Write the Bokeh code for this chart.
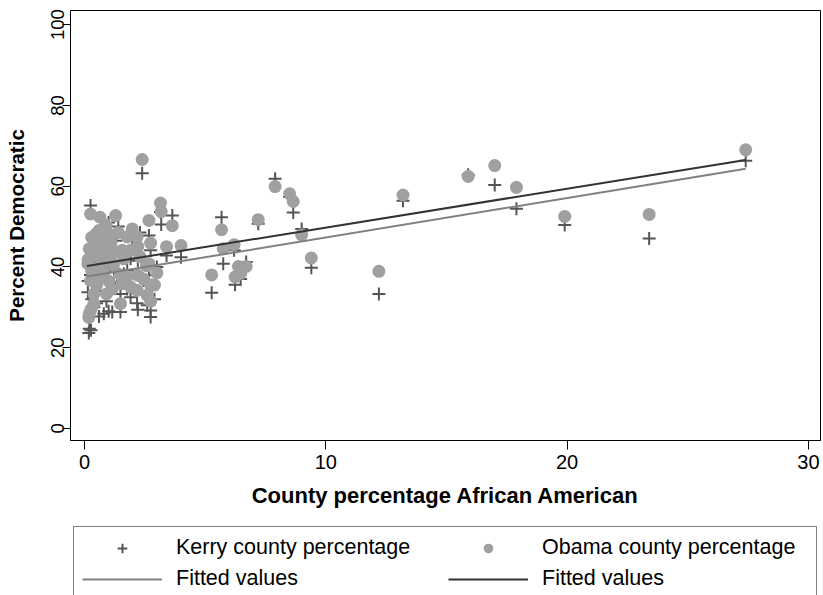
from bokeh.plotting import figure
from bokeh.layouts import column
from bokeh.models import Range1d, Legend, LegendItem, FixedTicker, ColumnDataSource
from bokeh.embed import file_html
from bokeh.resources import INLINE

# ---- data ----
pct_african_american = [
    27.4, 23.4, 19.9, 17.9, 17.0, 15.9, 13.2, 12.2, 9.4, 9.0, 8.65, 8.5, 7.9, 7.2,
    6.7, 6.47, 6.38, 6.24, 6.2, 5.75, 5.68, 5.27,
    4.0, 3.64, 3.4, 3.18, 3.15, 2.74, 2.67, 2.39, 2.74, 2.74, 2.67, 2.57, 2.45, 2.21,
    2.21, 2.18, 2.18, 1.98, 1.91, 1.91, 1.77, 1.77, 1.63, 1.56, 1.56, 1.49, 1.49, 1.4,
    1.29, 1.22, 1.2, 1.15, 1.1, 1.0, 1.0, 0.95, 0.91, 0.9, 0.85, 0.8, 0.75, 0.7,
    0.64, 0.6, 0.6, 0.55, 0.5, 0.5, 0.45, 0.4, 0.39, 0.39, 0.3, 0.3, 0.27, 0.25,
    0.25, 0.2, 0.2, 0.18, 0.15, 0.14, 2.9, 2.3, 3.0, 2.6,
]
obama_pct = [
    69.0, 53.0, 52.5, 59.7, 65.1, 62.4, 57.8, 38.9, 42.2, 47.9, 56.2, 58.1, 59.9, 51.7,
    40.1, 38.4, 40.1, 37.5, 45.5, 44.5, 49.2, 38.0,
    45.3, 50.2, 45.0, 53.7, 55.8, 45.9, 51.5, 66.6, 35.6, 31.5, 40.8, 40.3, 37.0, 37.9,
    45.0, 47.4, 34.2, 49.4, 44.1, 35.0, 47.4, 37.5, 42.0, 44.1, 35.8, 30.9, 38.0, 48.5,
    52.7, 43.5, 40.5, 34.5, 46.0, 36.5, 48.2, 41.5, 33.3, 50.3, 44.0, 38.5, 46.5, 42.5,
    52.3, 49.0, 37.5, 40.0, 43.0, 35.5, 48.0, 45.3, 33.3, 30.9, 47.3, 39.0, 29.5, 53.1,
    36.6, 44.5, 28.4, 27.5, 41.8, 40.8, 35.5, 42.5, 38.5, 33.0,
]
kerry_pct = [
    66.3, 47.0, 50.4, 54.4, 60.3, 62.8, 56.4, 33.3, 39.8, 49.4, 53.5, 57.3, 61.8, 50.7,
    41.2, 37.0, 38.5, 35.6, 44.1, 40.8, 52.3, 33.6,
    42.4, 52.7, 42.8, 50.5, 53.6, 44.1, 47.8, 63.2, 27.6, 29.2, 37.9, 33.7, 36.6, 29.4,
    41.5, 43.5, 31.0, 45.0, 42.0, 32.5, 39.1, 34.5, 38.3, 43.0, 36.5, 28.8, 33.3, 50.0,
    46.5, 39.5, 36.0, 28.8, 47.0, 29.0, 51.0, 41.0, 31.5, 44.0, 39.0, 28.4, 43.0, 37.0,
    49.0, 45.5, 27.7, 34.0, 40.0, 31.0, 46.5, 42.0, 30.0, 35.5, 45.0, 32.0, 24.3, 55.2,
    38.0, 40.0, 24.7, 23.6, 36.5, 33.7, 32.0, 48.5, 40.0, 30.5,
]
# fitted-line end points
fit_x = [0.1, 27.4]
kerry_fit = [37.6, 64.3]
obama_fit = [40.2, 66.5]

x_ticks = [0, 10, 20, 30]
y_ticks = [0, 20, 40, 60, 80, 100]
legend_labels = ["Kerry county percentage", "Obama county percentage",
                 "Fitted values", "Fitted values"]

FONT = "Liberation Sans"
KERRY_MARK = dict(marker="cross", size=13, line_color="#555555", line_width=2)
OBAMA_MARK = dict(marker="circle", size=13, fill_color="#a0a0a0",
                  line_color="#a0a0a0", line_width=0)
KERRY_LINE = dict(line_color="#808080", line_width=2)
OBAMA_LINE = dict(line_color="#333333", line_width=2)

src = ColumnDataSource(dict(x=pct_african_american, obama=obama_pct, kerry=kerry_pct))
fit_src = ColumnDataSource(dict(x=fit_x, kerry=kerry_fit, obama=obama_fit))

# ---------------- main plot ----------------
p = figure(width=823, height=525, output_backend="svg", toolbar_location=None,
           x_range=Range1d(-0.58, 30.5), y_range=Range1d(-3, 103.5),
           min_border_left=70, min_border_top=10, min_border_right=3,
           min_border_bottom=85)
p.grid.visible = False
p.outline_line_color = "black"
p.outline_line_width = 1
p.background_fill_color = "white"
p.border_fill_color = "white"

p.scatter("x", "kerry", source=src, **KERRY_MARK)
p.scatter("x", "obama", source=src, **OBAMA_MARK)
p.line("x", "kerry", source=fit_src, **KERRY_LINE)
p.line("x", "obama", source=fit_src, **OBAMA_LINE)

for ax in (p.xaxis[0], p.yaxis[0]):
    ax.axis_line_color = "black"
    ax.major_tick_line_color = "black"
    ax.major_tick_out = 8
    ax.major_tick_in = 0
    ax.minor_tick_line_color = None
    ax.major_label_text_font = FONT
    ax.major_label_text_color = "black"
    ax.axis_label_text_font = FONT
    ax.axis_label_text_font_style = "bold"
    ax.axis_label_text_color = "black"

p.xaxis.ticker = FixedTicker(ticks=x_ticks)
p.yaxis.ticker = FixedTicker(ticks=y_ticks)
p.xaxis.axis_label = "County percentage African American"
p.yaxis.axis_label = "Percent Democratic"
p.xaxis.major_label_text_font_size = "20px"
p.yaxis.major_label_text_font_size = "18.5px"
p.xaxis.axis_label_text_font_size = "22px"
p.yaxis.axis_label_text_font_size = "20.5px"
p.yaxis.major_label_orientation = "vertical"
p.xaxis.major_tick_out = 9
p.xaxis.major_label_standoff = 5
p.yaxis.major_label_standoff = -2
p.xaxis.axis_label_standoff = 11
p.yaxis.axis_label_standoff = 21

# ---------------- legend strip (ranges keep its own marks out of view) ----------------
q = figure(width=823, height=70, output_backend="svg", toolbar_location=None,
           x_range=Range1d(-200, -199), y_range=Range1d(-200, -199),
           min_border=0, x_axis_type=None, y_axis_type=None)
q.grid.visible = False
q.outline_line_color = None
q.background_fill_color = "white"
q.border_fill_color = "white"
lk = q.scatter("x", "kerry", source=src, **KERRY_MARK)
lo = q.scatter("x", "obama", source=src, **OBAMA_MARK)
lkf = q.line("x", "kerry", source=fit_src, **KERRY_LINE)
lof = q.line("x", "obama", source=fit_src, **OBAMA_LINE)

legend = Legend(items=[
    LegendItem(label=legend_labels[0], renderers=[lk], index=0),
    LegendItem(label=legend_labels[1], renderers=[lo], index=0),
    LegendItem(label=legend_labels[2], renderers=[lkf]),
    LegendItem(label=legend_labels[3], renderers=[lof]),
], orientation="horizontal", ncols=2, location=(3, -5))
legend.border_line_color = "black"
legend.border_line_width = 1
legend.background_fill_color = "white"
legend.background_fill_alpha = 1
legend.label_text_font = FONT
legend.label_text_font_size = "21.5px"
legend.label_text_color = "black"
legend.glyph_width = 80
legend.glyph_height = 24
legend.label_standoff = 14
legend.label_width = 266
legend.spacing = 6
legend.padding = 8
legend.margin = 0
q.add_layout(legend, "center")

layout = column(p, q, spacing=0)
open("out.html", "w").write(file_html(layout, INLINE))
